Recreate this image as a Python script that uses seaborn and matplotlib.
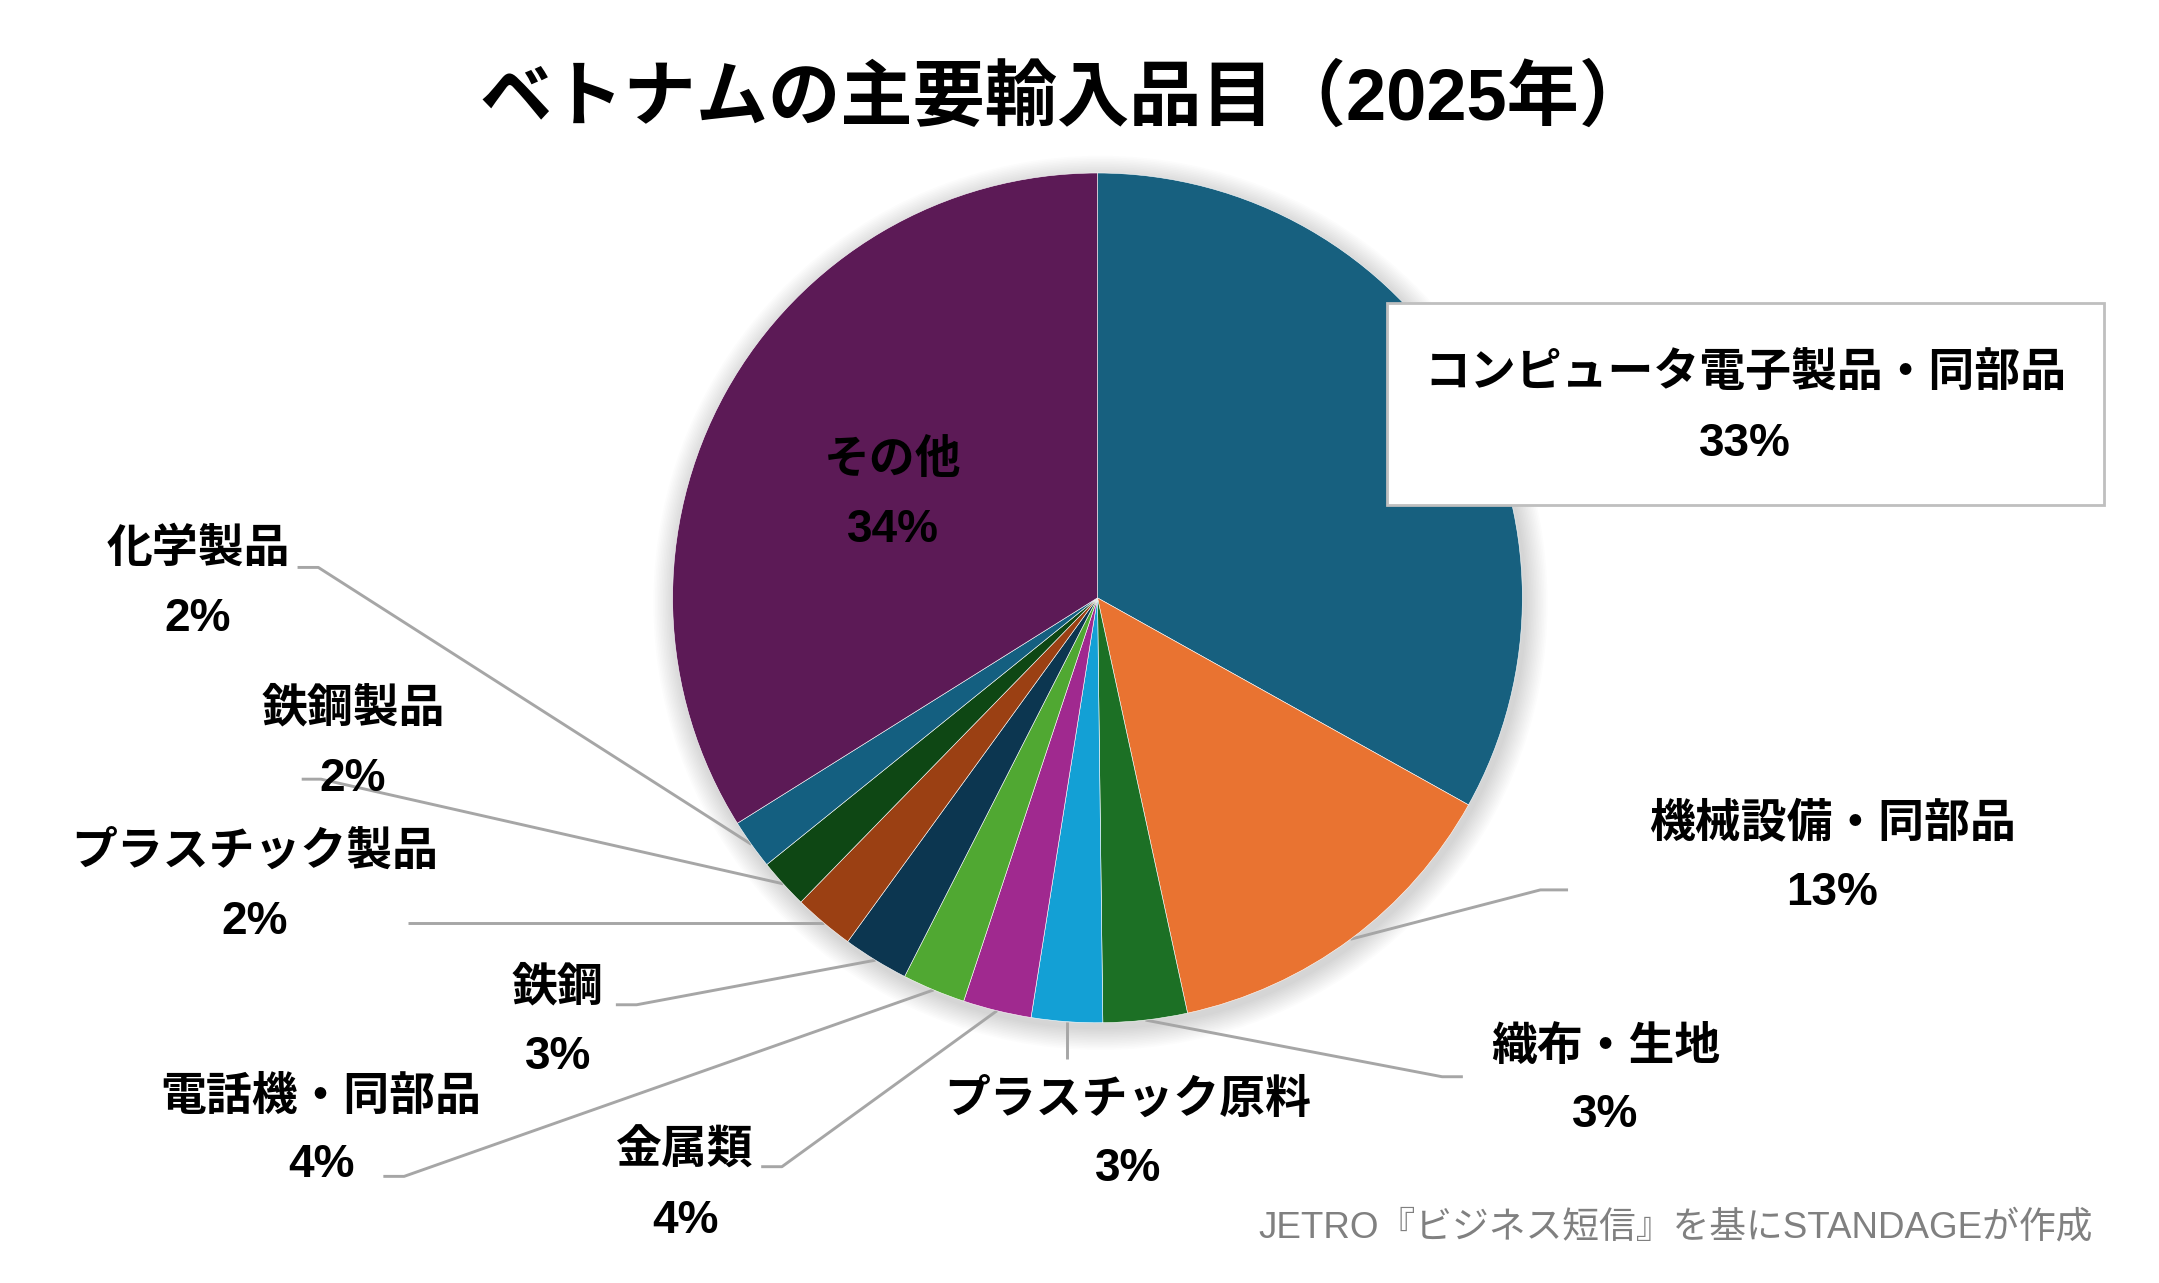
import matplotlib
matplotlib.use("Agg")
import matplotlib.pyplot as plt
import seaborn as sns
import numpy as np
from matplotlib.patches import Circle, Rectangle

# ---------------- data ----------------
categories = ['コンピュータ電子製品・同部品', '機械設備・同部品', '織布・生地', 'プラスチック原料',
              '金属類', '電話機・同部品', '鉄鋼', 'プラスチック製品', '鉄鋼製品', '化学製品', 'その他']
shares = [33.1, 13.5, 3.2, 2.7, 2.6, 2.4, 2.5, 2.3, 1.9, 1.9, 33.9]
pct_labels = ['33%', '13%', '3%', '3%', '4%', '4%', '3%', '2%', '2%', '2%', '34%']
colors = ['#17607F', '#E97331', '#1C7025', '#13A0D5', '#A0298F', '#50A832',
          '#0C3650', '#9B4013', '#0E4714', '#145F80', '#5C1A56']
title = 'ベトナムの主要輸入品目（2025年）'
source = 'JETRO『ビジネス短信』を基にSTANDAGEが作成'

# ---------------- style ----------------
sns.set_theme(style='white')
plt.rcParams['font.family'] = ['Liberation Sans', 'Noto Sans CJK JP', 'DejaVu Sans']

W, H = 2159, 1283
S = W / 1560.0  # layout units -> pixels


def P(x, y):
    return x * S, H - y * S


fig = plt.figure(figsize=(W / 100, H / 100), dpi=100)
fig.patch.set_facecolor('white')
ax = fig.add_axes([0, 0, 1, 1])

cx, cy = P(793, 432)
R = 307 * S

# soft shadow
for i in range(14):
    ax.add_patch(Circle((cx + 3, cy - 5), R + 1.5 + i * 1.6, facecolor='black',
                        edgecolor='none', alpha=0.011, zorder=0))

wedges, _ = ax.pie(shares, colors=sns.color_palette(colors), startangle=90, counterclock=False,
                   center=(cx, cy), radius=R,
                   wedgeprops=dict(linewidth=0.4, edgecolor='white'))
for w in wedges:
    w.set_zorder(2)

ax.set_xlim(0, W)
ax.set_ylim(0, H)
ax.set_aspect('equal')
ax.axis('off')

LBL = 33
line_kw = dict(color='#A6A6A6', lw=2.1, zorder=1, solid_capstyle='butt')

# label layout: name position, percent position, leader-line elbow points (layout units)
layout = {
    1: ((1324, 596), (1324, 645), [(1113, 643), (1133, 643)]),
    2: ((1160, 757), (1160, 806), [(1042, 778), (1057, 778)]),
    3: ((815, 795), (815, 845), 'vertical765'),
    4: ((495, 832), (495, 882), [(565, 843), (550, 843)]),
    5: ((232, 793), (232, 842), [(292, 850), (277, 850)]),
    6: ((403, 714), (403, 764), [(460, 726), (445, 726)]),
    7: ((184, 616), (184, 666), 'horizontal295'),
    8: ((255, 513), (255, 563), [(232, 563), (218, 563)]),
    9: ((143, 397), (143, 447), [(230, 410), (215, 410)]),
}

for i, w in enumerate(wedges):
    mid = np.deg2rad((w.theta1 + w.theta2) / 2)
    rx, ry = cx + R * np.cos(mid), cy + R * np.sin(mid)
    if i in layout:
        npos, ppos, lead = layout[i]
        if lead == 'vertical765':
            pts = [(rx, ry), (rx, P(0, 765)[1])]
        elif lead == 'horizontal295':
            pts = [(rx, ry), (P(295, 0)[0], ry)]
        else:
            pts = [(rx, ry)] + [P(*p) for p in lead]
        xs, ys = zip(*pts)
        ax.plot(xs, ys, **line_kw)
        ax.text(*P(*npos), categories[i], ha='center', va='center', fontsize=LBL,
                fontweight='bold', color='black', zorder=3)
        ax.text(*P(*ppos), pct_labels[i], ha='center', va='center', fontsize=LBL,
                fontweight='bold', color='black', zorder=3)

# inside label for その他
ax.text(*P(645, 333), categories[10], ha='center', va='center', fontsize=LBL,
        fontweight='bold', color='black', zorder=3)
ax.text(*P(645, 383), pct_labels[10], ha='center', va='center', fontsize=LBL,
        fontweight='bold', color='black', zorder=3)

# callout box for the largest slice
bx0, by1 = P(1002, 365)
bx1, by0 = P(1520, 219)
ax.add_patch(Rectangle((bx0, by1), bx1 - bx0, by0 - by1, facecolor='white',
                       edgecolor='#BFBFBF', lw=2, zorder=3))
ax.text(*P(1261, 271), categories[0], ha='center', va='center', fontsize=LBL,
        fontweight='bold', color='black', zorder=4)
ax.text(*P(1261, 321), pct_labels[0], ha='center', va='center', fontsize=LBL,
        fontweight='bold', color='black', zorder=4)

# title and source
ax.text(*P(770, 72), title, ha='center', va='center', fontsize=52,
        fontweight='bold', color='black')
ax.text(*P(1512, 887), source, ha='right', va='center', fontsize=26.5,
        color='#808080')

fig.savefig('out.png', dpi=100, facecolor='white')
